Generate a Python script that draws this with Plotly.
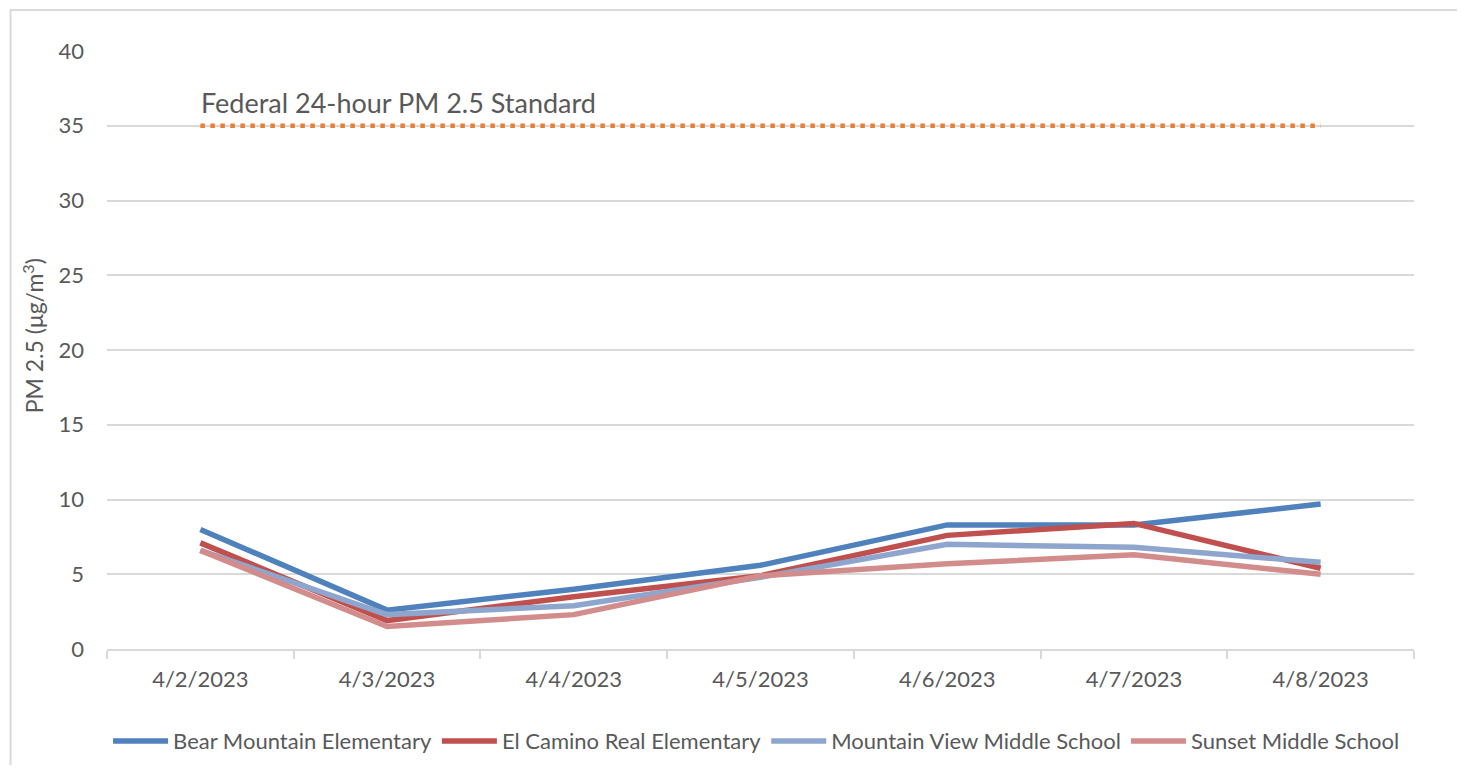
import plotly.graph_objects as go

dates = ["4/2/2023", "4/3/2023", "4/4/2023", "4/5/2023", "4/6/2023", "4/7/2023", "4/8/2023"]
bear_mountain = [8.0, 2.6, 4.0, 5.6, 8.3, 8.3, 9.7]
el_camino = [7.1, 1.9, 3.5, 4.9, 7.6, 8.4, 5.4]
mountain_view = [6.6, 2.3, 2.9, 4.8, 7.0, 6.8, 5.8]
sunset = [6.6, 1.5, 2.3, 4.9, 5.7, 6.3, 5.0]
standard = [35, 35, 35, 35, 35, 35, 35]
standard_label = "Federal 24-hour PM 2.5 Standard"
y_title = "PM 2.5 (μg/m<sup>3</sup>)"

FONT = "Lato"
TXT = "#595959"
GRID = "#D9D9D9"

fig = go.Figure()
fig.add_trace(go.Scatter(x=dates, y=standard, mode="lines", showlegend=False,
                         line=dict(color="#ED7D31", width=4.5, dash="4.5px,5.5px"), hoverinfo="skip"))
series = [
    ("Bear Mountain Elementary", bear_mountain, "#4F81BD"),
    ("El Camino Real Elementary", el_camino, "#C0504D"),
    ("Mountain View Middle School", mountain_view, "#8EA6CD"),
    ("Sunset Middle School", sunset, "#D38C8C"),
]
for name, vals, col in series:
    fig.add_trace(go.Scatter(x=dates, y=vals, mode="lines", name=name,
                             line=dict(color=col, width=5.5)))

fig.add_annotation(x=dates[0], y=standard[0], xref="x", yref="y", text=standard_label,
                   showarrow=False, xanchor="left", yanchor="bottom", xshift=-1, yshift=5,
                   font=dict(family=FONT, size=27, color=TXT))

fig.add_annotation(x=-0.0566, y=0.523, xref="paper", yref="paper", text=y_title,
                   showarrow=False, textangle=-90, xanchor="center", yanchor="middle",
                   font=dict(family=FONT, size=23, color=TXT))

fig.add_shape(type="rect", xref="paper", yref="paper", x0=-0.0738, x1=1.0367, y0=-0.25, y1=1.0686,
              line=dict(color=GRID, width=2), layer="below")

fig.update_layout(
    width=1449, height=757,
    margin=dict(l=99, r=43, t=43, b=116, autoexpand=False),
    paper_bgcolor="white", plot_bgcolor="white",
    font=dict(family=FONT, size=22, color=TXT),
    xaxis=dict(type="category", range=[-0.5, 6.5], showgrid=False,
               showline=True, linecolor=GRID, linewidth=2,
               ticks="outside", tickson="boundaries", ticklen=8, tickcolor=GRID, tickwidth=2,
               tickfont=dict(size=22, color=TXT), ticklabelstandoff=10, zeroline=False),
    yaxis=dict(range=[0, 40], dtick=5, showgrid=True, gridcolor=GRID, gridwidth=2,
               zeroline=False, showline=False, tickfont=dict(size=22, color=TXT),
               ticklabelstandoff=22),
    legend=dict(orientation="h", x=0.497, xanchor="center", y=-0.154, yanchor="middle",
                font=dict(size=22, color=TXT), itemwidth=55, tracegroupgap=0,
                bgcolor="rgba(0,0,0,0)"),
    showlegend=True,
)

fig.write_html("out.html")
